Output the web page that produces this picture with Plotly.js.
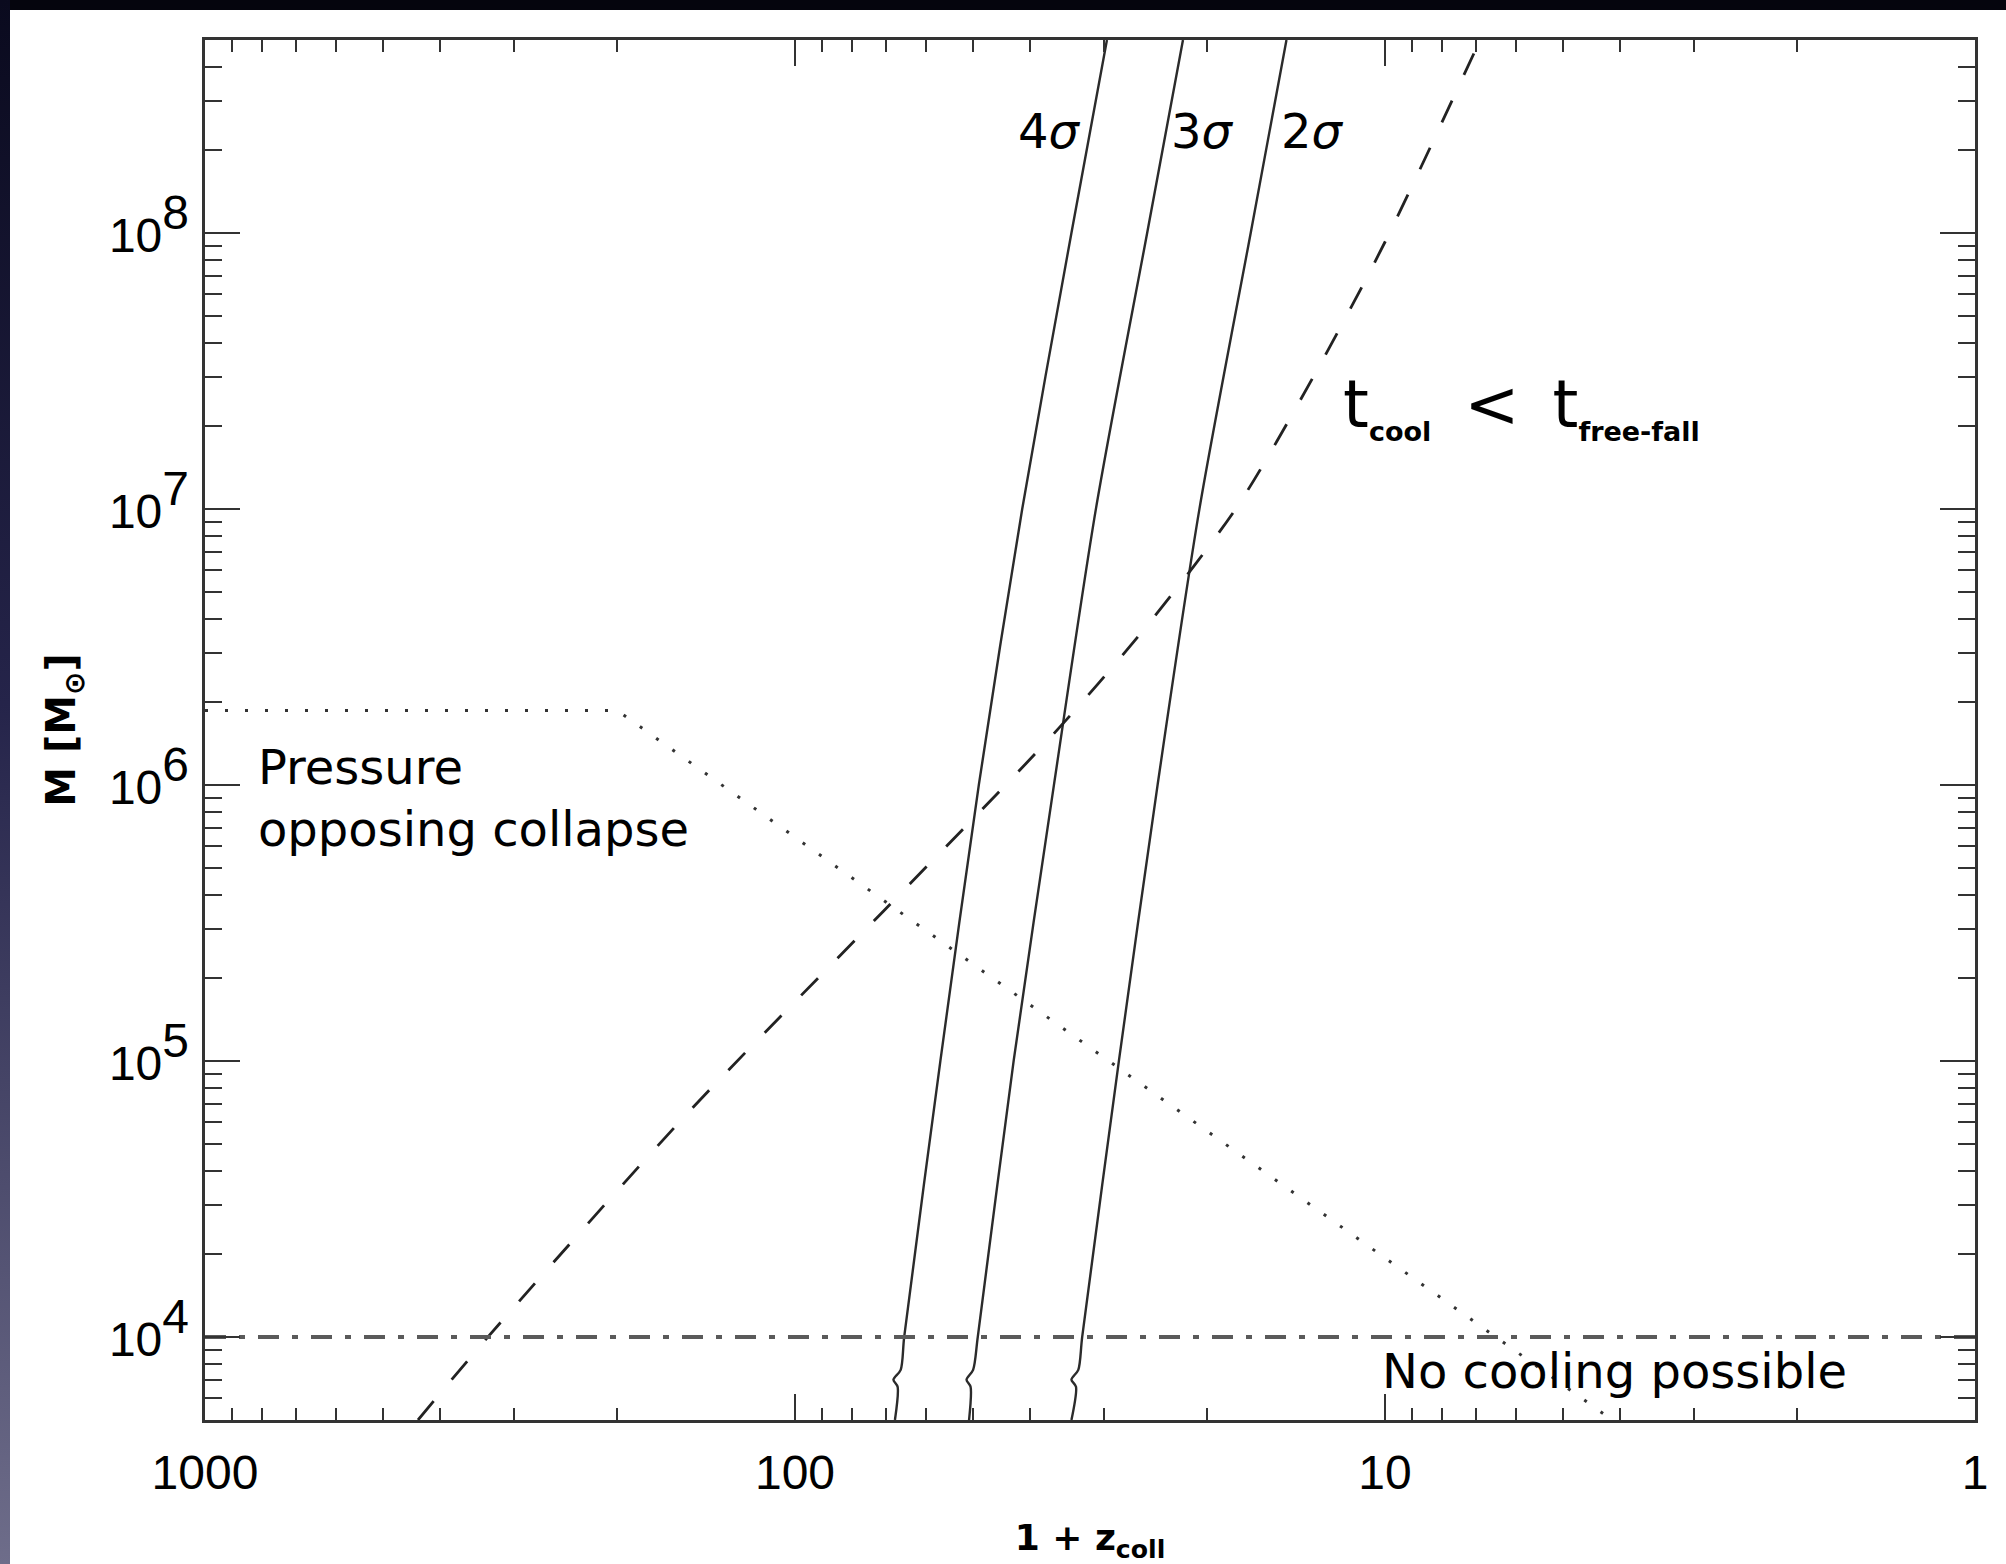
<!DOCTYPE html>
<html><head><meta charset="utf-8">
<script src="https://cdn.plot.ly/plotly-3.0.1.min.js"></script>
<style>
html,body{margin:0;padding:0;background:#fff;overflow:hidden;}
#chart{position:absolute;left:0;top:0;width:2006px;height:1564px;}
#topband{position:absolute;left:0;top:0;width:2006px;height:10px;background:#05050d;z-index:5;}
#leftband{position:absolute;left:0;top:0;width:10px;height:1564px;background:linear-gradient(#0a0a1e,#25244a 45%,#6e6d8a);z-index:5;}
</style></head><body>
<div id="chart"></div><div id="topband"></div><div id="leftband"></div>
<script>
// ---- data ----
const sigmaMass = [5e8, 1e8, 1e7, 1e6, 1e5, 1e4, 7.6e3, 7.0e3, 6.6e3, 5e3];
const sigma4Z = [29.6, 34.0, 41.2, 48.8, 56.7, 65.3, 66.2, 68.1, 67.0, 67.7];
const sigma3Z = [22.0, 25.3, 30.9, 36.4, 42.6, 49.0, 49.9, 51.2, 50.4, 50.7];
const sigma2Z = [14.69, 16.89, 20.63, 24.29, 28.25, 32.6, 33.1, 34.0, 33.4, 34.0];
const coolZ = [435.5, 331.4, 151.2, 70.9, 36.5, 25.2, 17.8, 13.24, 10.0, 6.90];
const coolMass = [5.0e3, 1.0e4, 6.55e4, 3.48e5, 1.525e6, 3.82e6, 1.02e7, 3.0e7, 9.27e7, 5.0e8];
const jeansZ = [1000, 200, 4.12];
const jeansMass = [1.86e6, 1.86e6, 5.0e3];
const noCoolZ = [1000, 1];
const noCoolMass = [1e4, 1e4];
const xTickVals = [1000, 100, 10, 1];
const xTickText = ['1000', '100', '10', '1'];
const yTickVals = [1e4, 1e5, 1e6, 1e7, 1e8];
const yTickExp = ['4', '5', '6', '7', '8'];
const sigmaLabels = ['4<i>σ</i>', '3<i>σ</i>', '2<i>σ</i>'];

// minor tick positions (2..9 in each decade)
const mult = [2,3,4,5,6,7,8,9];
const xMinor = [];
[1, 10, 100].forEach(d => mult.forEach(m => xMinor.push(m * d)));
const yMinor = [];
[1e3, 1e4, 1e5, 1e6, 1e7, 1e8].forEach(d => mult.forEach(m => yMinor.push(m * d)));

const ink = '#2b2b2b';
const sigmaLine = {color: ink, width: 2.4, shape: 'spline', smoothing: 0.8};
const traces = [
  {x: sigma4Z, y: sigmaMass, mode: 'lines', line: sigmaLine},
  {x: sigma3Z, y: sigmaMass, mode: 'lines', line: sigmaLine},
  {x: sigma2Z, y: sigmaMass, mode: 'lines', line: sigmaLine},
  {x: coolZ, y: coolMass, mode: 'lines', line: {color: '#222', width: 2.8, dash: '24px,28px', shape: 'spline', smoothing: 0.8}},
  {x: jeansZ, y: jeansMass, mode: 'lines', line: {color: '#333', width: 3, dash: '3px,17px'}},
  {x: noCoolZ, y: noCoolMass, mode: 'lines', line: {color: '#5a5a5a', width: 4, dash: '21px,13px,6px,13px'}}
];

const tickFont = {family: 'Liberation Sans, Arial, sans-serif', size: 48, color: '#000'};
const annFont = {family: 'DejaVu Sans, sans-serif', size: 48, color: '#000'};
const axisCommon = {
  showline: true, linecolor: '#333', linewidth: 3, mirror: 'ticks',
  ticks: 'inside', tickcolor: '#333', tickwidth: 2, showgrid: false, zeroline: false,
  tickfont: tickFont, tickmode: 'array'
};

const sigmaPos = [0.4774, 0.5638, 0.6257];
const annotations = sigmaLabels.map((t, i) => ({
  xref: 'paper', yref: 'paper', x: sigmaPos[i], y: 0.9341, text: t, showarrow: false,
  xanchor: 'center', yanchor: 'middle', font: annFont
}));
annotations.push(
  {xref: 'paper', yref: 'paper', x: 0.0288, y: 0.4732, text: 'Pressure', showarrow: false, xanchor: 'left', yanchor: 'middle', font: annFont},
  {xref: 'paper', yref: 'paper', x: 0.0288, y: 0.428, text: 'opposing collapse', showarrow: false, xanchor: 'left', yanchor: 'middle', font: annFont},
  {xref: 'paper', yref: 'paper', x: 0.6638, y: 0.0352, text: 'No cooling possible', showarrow: false, xanchor: 'left', yanchor: 'middle', font: annFont},
  {xref: 'paper', yref: 'paper', x: 0.6418, y: 0.7345, showarrow: false, xanchor: 'left', yanchor: 'middle',
   font: {family: 'DejaVu Sans, sans-serif', size: 66, color: '#000'},
   text: 't<sub><b><span style="font-size:27px">cool</span></b></sub>\u2002<\u2002t<sub><b><span style="font-size:27px">free-fall</span></b></sub>'}
);

const layout = {
  width: 2006, height: 1564,
  margin: {l: 205, r: 31, t: 40, b: 144, pad: 0},
  paper_bgcolor: '#fff', plot_bgcolor: '#fff', showlegend: false,
  xaxis: Object.assign({}, axisCommon, {
    type: 'log', range: [3, 0], tickvals: xTickVals, ticktext: xTickText,
    ticklen: 26, ticklabelstandoff: 8,
    minor: {ticks: 'inside', ticklen: 12, tickwidth: 2, tickcolor: '#333', tickmode: 'array', tickvals: xMinor},
    title: {text: '1 + z<sub>coll</sub>', font: {family: 'DejaVu Sans, sans-serif', size: 36, weight: 'bold', color: '#000'}, standoff: 42}
  }),
  yaxis: Object.assign({}, axisCommon, {
    type: 'log', range: [Math.log10(5e3), Math.log10(5e8)], tickvals: yTickVals,
    tickfont: {family: 'Liberation Sans, Arial, sans-serif', size: 55, color: '#000'},
    ticktext: yTickExp.map(e => '<span style="font-size:48px">10</span><sup><span style="font-size:48px">' + e + '</span></sup>'),
    ticklen: 35, ticklabelstandoff: 2,
    minor: {ticks: 'inside', ticklen: 17, tickwidth: 2, tickcolor: '#333', tickmode: 'array', tickvals: yMinor},
    title: {text: 'M [M<sub>⊙</sub>]', font: {family: 'DejaVu Sans, sans-serif', size: 40, weight: 'bold', color: '#000'}, standoff: 21}
  }),
  annotations: annotations
};

Plotly.newPlot('chart', traces, layout, {displayModeBar: false, staticPlot: true});
</script>
</body></html>
